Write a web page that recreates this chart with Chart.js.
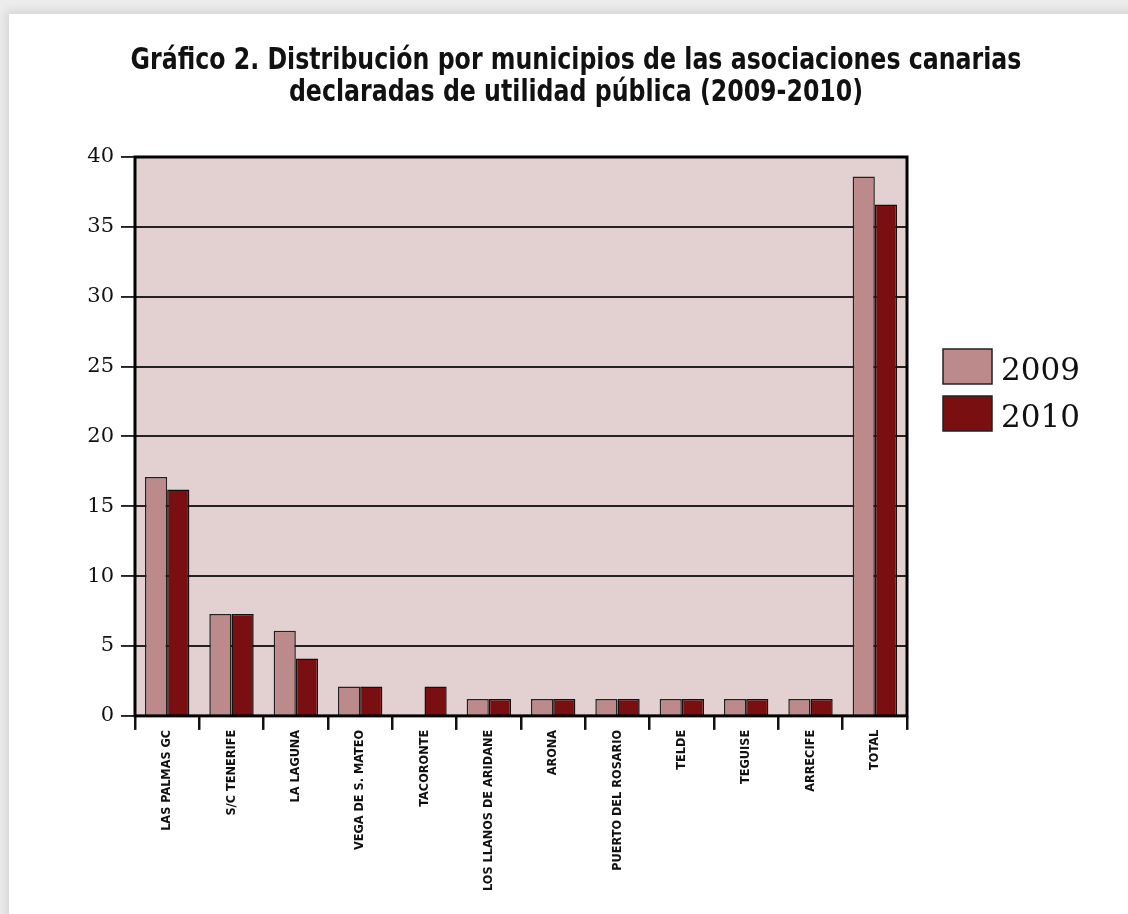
<!DOCTYPE html>
<html>
<head>
<meta charset="utf-8">
<script src="https://cdn.jsdelivr.net/npm/chart.js@4/dist/chart.umd.min.js"></script>
<style>
  html, body { margin: 0; padding: 0; background: #fff; }
  body { width: 1128px; height: 914px; position: relative; overflow: hidden; background: #ececec; }
  .card { position: absolute; left: 9px; top: 14px; width: 1200px; height: 1000px; background: #fff;
          box-shadow: -3px -3px 9px rgba(0,0,0,0.10); }
  #chart { position: absolute; left: 0; top: 0; }
</style>
</head>
<body>
<div class="card"></div>
<canvas id="chart" width="1128" height="914"></canvas>
<script>
const municipios = ['LAS PALMAS GC', 'S/C TENERIFE', 'LA LAGUNA', 'VEGA DE S. MATEO', 'TACORONTE',
  'LOS LLANOS DE ARIDANE', 'ARONA', 'PUERTO DEL ROSARIO', 'TELDE', 'TEGUISE', 'ARRECIFE', 'TOTAL'];
const valores2009 = [17.1, 7.3, 6.1, 2.1, 0, 1.2, 1.2, 1.2, 1.2, 1.2, 1.2, 38.6];
const valores2010 = [16.2, 7.3, 4.1, 2.1, 2.1, 1.2, 1.2, 1.2, 1.2, 1.2, 1.2, 36.6];
const tituloLineas = ['Gráfico 2. Distribución por municipios de las asociaciones canarias',
  'declaradas de utilidad pública (2009-2010)'];

const narrow = "'Liberation Sans Narrow', 'DejaVu Sans Condensed', 'Arial Narrow', sans-serif";

// fondo rosado del area de trazado
const plotBg = {
  id: 'plotBg',
  beforeDraw(chart) {
    const a = chart.chartArea, c = chart.ctx;
    c.save();
    c.fillStyle = '#e3d0d0';
    c.fillRect(a.left, a.top, a.right - a.left, a.bottom - a.top);
    c.restore();
  }
};

// marco negro grueso
const frame = {
  id: 'frame',
  afterDatasetsDraw(chart) {
    const a = chart.chartArea, c = chart.ctx;
    c.save();
    c.strokeStyle = '#000';
    c.lineWidth = 3;
    c.strokeRect(a.left, a.top, a.right - a.left, a.bottom - a.top);
    c.restore();
  }
};

// titulo condensado (la fuente original es mas estrecha)
const titulo = {
  id: 'titulo',
  afterDraw(chart) {
    const c = chart.ctx;
    c.save();
    c.fillStyle = '#111';
    c.font = "bold 30px " + narrow;
    c.textAlign = 'center';
    c.textBaseline = 'alphabetic';
    c.translate(576, 0);
    c.scale(0.877, 1);
    tituloLineas.forEach((t, i) => c.fillText(t, 0, 69 + i * 32));
    c.restore();
  }
};

// leyenda a la derecha
const sideLegend = {
  id: 'sideLegend',
  afterDraw(chart) {
    const c = chart.ctx;
    c.save();
    chart.data.datasets.forEach((ds, i) => {
      const x = 943, y = 349 + i * 47;
      c.fillStyle = ds.backgroundColor;
      c.fillRect(x, y, 49, 35);
      c.strokeStyle = '#222';
      c.lineWidth = 1.5;
      c.strokeRect(x, y, 49, 35);
      c.fillStyle = '#111';
      c.font = "31px 'DejaVu Serif', serif";
      c.textBaseline = 'alphabetic';
      c.fillText(ds.label, 1001, y + 31);
    });
    c.restore();
  }
};

const ctxMain = document.getElementById('chart').getContext('2d');

const mainChart = new Chart(ctxMain, {
  type: 'bar',
  data: {
    labels: municipios,
    datasets: [{
      label: '2009',
      data: valores2009,
      backgroundColor: '#bc8a8a',
      borderColor: '#222',
      borderWidth: 1.5
    }, {
      label: '2010',
      data: valores2010,
      backgroundColor: '#7a0f12',
      borderColor: '#111',
      borderWidth: 1.5
    }]
  },
  options: {
    responsive: false,
    animation: false,
    layout: { padding: { left: 24, right: 0, top: 157, bottom: 23 } },
    datasets: { bar: { categoryPercentage: 0.69, barPercentage: 1.0 } },
    scales: {
      x: {
        grid: { drawOnChartArea: false, drawTicks: true, tickLength: 14, lineWidth: 2.5, color: '#111' },
        border: { display: false },
        ticks: {
          autoSkip: false, maxRotation: 90, minRotation: 90, padding: 0,
          color: '#111', font: { family: narrow, size: 12.6, weight: 'bold' }
        }
      },
      y: {
        min: 0, max: 40,
        afterFit(scale) { scale.width = 111; },
        grid: { color: '#222', lineWidth: 1.9, tickLength: 14 },
        border: { display: false },
        ticks: {
          stepSize: 5, padding: 7, color: '#111',
          font: { family: "'DejaVu Serif', serif", size: 21 }
        }
      },
      // hueco a la derecha para la leyenda
      hueco: {
        position: 'right',
        afterFit(scale) { scale.width = 221; },
        grid: { display: false },
        border: { display: false },
        ticks: { display: false }
      }
    },
    plugins: {
      legend: { display: false },
      tooltip: { enabled: false },
      title: { display: false }
    }
  },
  plugins: [plotBg, frame, titulo, sideLegend]
});
</script>
</body>
</html>
